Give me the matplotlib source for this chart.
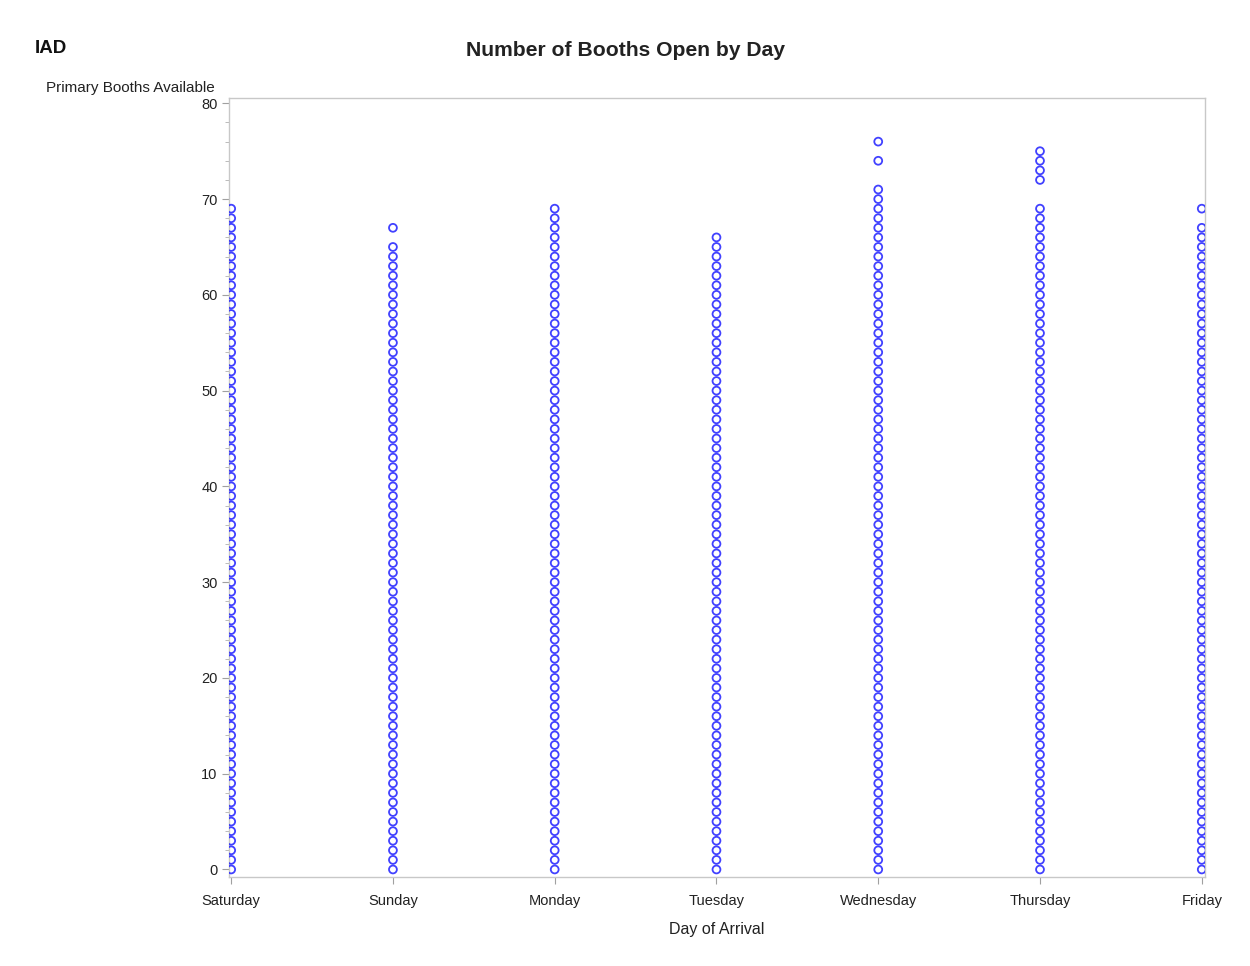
import numpy as np
import matplotlib
matplotlib.use("Agg")
import matplotlib.pyplot as plt
from matplotlib.ticker import MultipleLocator

plt.rcParams["font.family"] = ["Liberation Sans", "DejaVu Sans"]

days = ["Saturday", "Sunday", "Monday", "Tuesday", "Wednesday", "Thursday", "Friday"]

# booth counts observed per day (continuous run from 0 plus a few outliers on top)
sat_vals = list(range(0, 70))
sun_vals = list(range(0, 66)) + [67]
mon_vals = list(range(0, 70))
tue_vals = list(range(0, 67))
wed_vals = list(range(0, 72)) + [74, 76]
thu_vals = list(range(0, 70)) + [72, 73, 74, 75]
fri_vals = list(range(0, 68)) + [69]

day_values = [sat_vals, sun_vals, mon_vals, tue_vals, wed_vals, thu_vals, fri_vals]

fig = plt.figure(figsize=(12.5, 9.66), dpi=100)
ax = fig.add_axes([0.183, 0.092, 0.781, 0.807])

for i, vals in enumerate(day_values):
    ax.scatter(np.full(len(vals), i), vals, s=32, facecolors="none",
               edgecolors="#2020ff", linewidths=1.3, alpha=0.85, zorder=3)

ax.set_xlim(-0.015, 6.02)
ax.set_ylim(-0.8, 80.6)
ax.set_xticks(range(len(days)))
ax.set_xticklabels(days)
ax.yaxis.set_major_locator(MultipleLocator(10))
ax.yaxis.set_minor_locator(MultipleLocator(2))

for s in ax.spines.values():
    s.set_color("#c8c8c8")
    s.set_linewidth(1.0)
ax.tick_params(axis="both", which="major", length=5, color="#a0a0a0",
               labelsize=10.5, labelcolor="#222222")
ax.tick_params(axis="x", pad=7)
ax.tick_params(axis="y", pad=3)
ax.tick_params(axis="y", which="minor", length=3, color="#b0b0b0")

ax.set_xlabel("Day of Arrival", fontsize=11.5, color="#222222", labelpad=10)

fig.text(0.5, 0.948, "Number of Booths Open by Day", ha="center", va="center",
         fontsize=15.2, fontweight="bold", color="#222222")
fig.text(0.028, 0.95, "IAD", ha="left", va="center", fontsize=13.5,
         fontweight="bold", color="#111111")
fig.text(0.172, 0.909, "Primary Booths Available", ha="right", va="center",
         fontsize=11, color="#222222")

fig.savefig("out.png", dpi=100)
